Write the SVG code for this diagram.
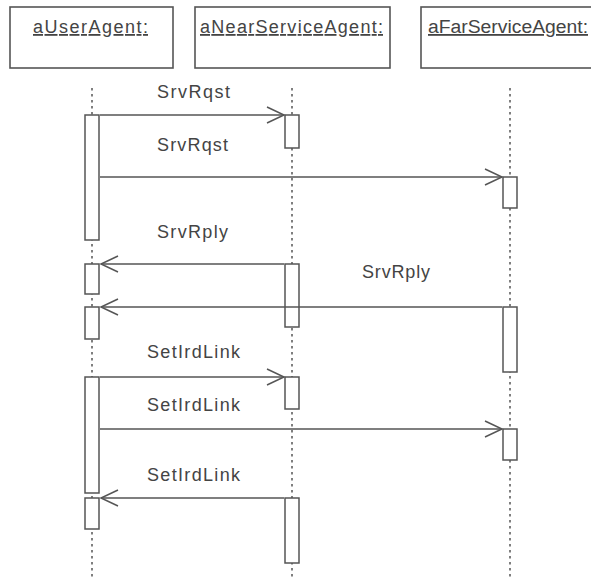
<svg xmlns="http://www.w3.org/2000/svg" width="591" height="580" viewBox="0 0 591 580">
<style>
.box{fill:#fff;stroke:#555;stroke-width:1.6}
.act{fill:#fff;stroke:#555;stroke-width:1.5}
.life{stroke:#555;stroke-width:1.5;stroke-dasharray:2.5 3.5;fill:none}
.msg{stroke:#555;stroke-width:1.5;fill:none}
.t{font-family:"Liberation Sans",Arial,sans-serif;font-size:18px;fill:#444}
.u{text-decoration:underline}
</style>
<defs>
<marker id="ah" markerUnits="userSpaceOnUse" markerWidth="24" markerHeight="24" viewBox="-20 -12 24 24" refX="0" refY="0" orient="auto">
<path d="M-17,-8 L0,0 L-17,8" fill="none" stroke="#555" stroke-width="1.5"/>
</marker>
</defs>
<g id="lifelines">
<line class="life" x1="92" y1="88" x2="92" y2="580"/>
<line class="life" x1="292" y1="88" x2="292" y2="580"/>
<line class="life" x1="510" y1="88" x2="510" y2="580"/>
</g>
<g id="aUserAgent">
<rect class="box" x="10" y="7" width="163" height="61"/>
<text class="t u" x="33" y="33" textLength="115" lengthAdjust="spacing">aUserAgent:</text>
<rect class="act" x="85" y="115" width="14" height="125"/>
<rect class="act" x="85" y="264" width="14" height="30"/>
<rect class="act" x="85" y="307" width="14" height="32"/>
<rect class="act" x="85" y="377" width="14" height="116"/>
<rect class="act" x="85" y="498" width="14" height="31"/>
</g>
<g id="aNearServiceAgent">
<rect class="box" x="195" y="7" width="195" height="61"/>
<text class="t u" x="200" y="33" textLength="183" lengthAdjust="spacing">aNearServiceAgent:</text>
<rect class="act" x="285" y="115" width="14" height="33"/>
<rect class="act" x="285" y="264" width="14" height="63"/>
<rect class="act" x="285" y="377" width="14" height="32"/>
<rect class="act" x="285" y="498" width="14" height="65"/>
</g>
<g id="aFarServiceAgent">
<rect class="box" x="421" y="7" width="190" height="61"/>
<text class="t u" x="428" y="33" textLength="160" lengthAdjust="spacingAndGlyphs">aFarServiceAgent:</text>
<rect class="act" x="503" y="177" width="14" height="31"/>
<rect class="act" x="503" y="307" width="14" height="65"/>
<rect class="act" x="503" y="429" width="14" height="31"/>
</g>
<g id="connectors">
<line class="msg" x1="100" y1="115" x2="284" y2="115" marker-end="url(#ah)"/>
<line class="msg" x1="100" y1="177" x2="502" y2="177" marker-end="url(#ah)"/>
<line class="msg" x1="284" y1="264" x2="101" y2="264" marker-end="url(#ah)"/>
<line class="msg" x1="502" y1="307" x2="101" y2="307" marker-end="url(#ah)"/>
<line class="msg" x1="100" y1="377" x2="284" y2="377" marker-end="url(#ah)"/>
<line class="msg" x1="100" y1="429" x2="502" y2="429" marker-end="url(#ah)"/>
<line class="msg" x1="284" y1="498" x2="101" y2="498" marker-end="url(#ah)"/>
<text class="t" x="157" y="98" textLength="73" lengthAdjust="spacing">SrvRqst</text>
<text class="t" x="157" y="151" textLength="71" lengthAdjust="spacing">SrvRqst</text>
<text class="t" x="157" y="238" textLength="71" lengthAdjust="spacing">SrvRply</text>
<text class="t" x="362" y="278" textLength="68" lengthAdjust="spacing">SrvRply</text>
<text class="t" x="147" y="358" textLength="93" lengthAdjust="spacing">SetIrdLink</text>
<text class="t" x="147" y="411" textLength="93" lengthAdjust="spacing">SetIrdLink</text>
<text class="t" x="147" y="481" textLength="93" lengthAdjust="spacing">SetIrdLink</text>
</g>
</svg>
